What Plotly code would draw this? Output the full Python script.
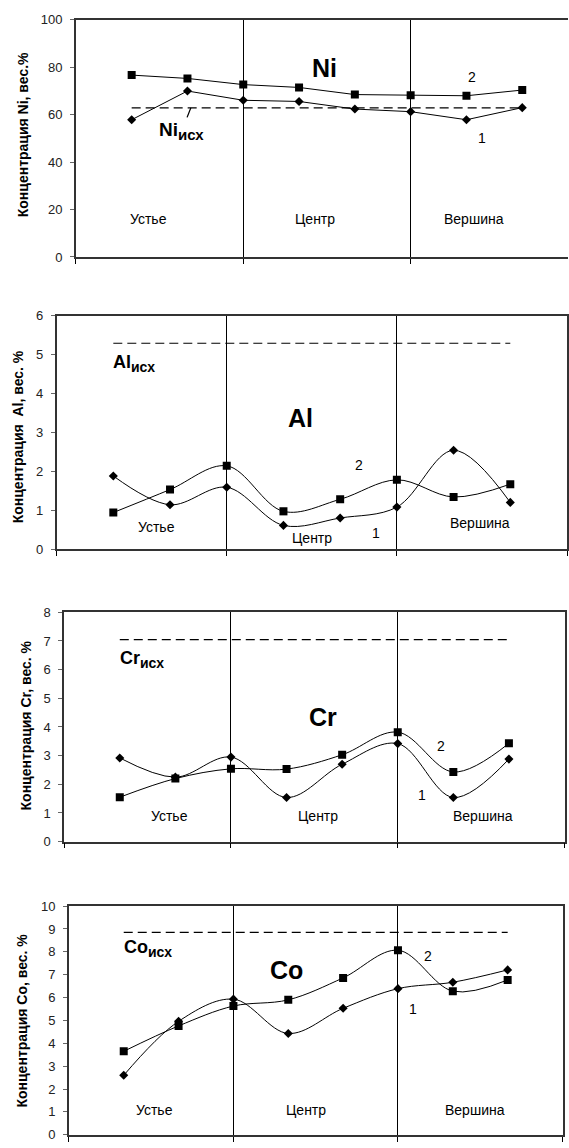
import plotly.graph_objects as go

# ---------------- data ----------------
positions = [0, 1, 2, 3, 4, 5, 6, 7]
section_bounds = [-1, 2, 5, 8]
section_names = ["Устье", "Центр", "Вершина"]

ni_1 = [57.8, 69.9, 66.0, 65.5, 62.3, 61.2, 57.8, 62.9]
ni_2 = [76.6, 75.2, 72.6, 71.4, 68.4, 68.1, 67.9, 70.3]
ni_init = 62.8

al_1 = [1.88, 1.14, 1.59, 0.61, 0.80, 1.08, 2.54, 1.20]
al_2 = [0.94, 1.53, 2.14, 0.97, 1.28, 1.78, 1.34, 1.67]
al_init = 5.29

cr_1 = [2.92, 2.25, 2.95, 1.54, 2.70, 3.42, 1.54, 2.88]
cr_2 = [1.55, 2.20, 2.54, 2.53, 3.03, 3.82, 2.43, 3.43]
cr_init = 7.05

co_1 = [2.60, 4.96, 5.93, 4.43, 5.53, 6.39, 6.67, 7.21]
co_2 = [3.65, 4.76, 5.63, 5.90, 6.86, 8.07, 6.28, 6.77]
co_init = 8.85

W, H = 569, 1148
FONT = "Arial, Liberation Sans, sans-serif"

panels = [
    dict(el="Ni", s1=ni_1, s2=ni_2, init=ni_init, ymax=100, dtick=20, shape="linear",
         left=76, right=569, top=12.7, bottom=253.3, xmax=7.82, mirror_y=False,
         ytitle="Концентрация Ni, вес.%", tx=23, ty=129, init_size=19,
         big=(3.45, 79.4), lab2=(6.10, 75.7), lab1=(6.28, 50.3), init_lab=(0.895, 52.9),
         sec_x=[0.31, 3.29, 6.14], sec_y=[16, 16, 16]),
    dict(el="Al", s1=al_1, s2=al_2, init=al_init, ymax=6, dtick=1, shape="spline",
         left=56.7, right=568, top=312.7, bottom=549.3, xmax=8, mirror_y=True,
         ytitle="Концентрация  Al, вес. %", tx=18, ty=435, init_size=18,
         big=(3.30, 3.36), lab2=(4.34, 2.16), lab1=(4.64, 0.41), init_lab=(0.36, 4.76),
         sec_x=[0.77, 3.51, 6.47], sec_y=[0.56, 0.28, 0.66]),
    dict(el="Cr", s1=cr_1, s2=cr_2, init=cr_init, ymax=8, dtick=1, shape="spline",
         left=64.3, right=565.5, top=613.3, bottom=845.7, xmax=8, mirror_y=True,
         ytitle="Концентрация Cr, вес. %", tx=27, ty=728, init_size=18,
         big=(3.66, 4.35), lab2=(5.77, 3.33), lab1=(5.44, 1.63), init_lab=(0.40, 6.36),
         sec_x=[0.90, 3.57, 6.53], sec_y=[0.88, 0.88, 0.88]),
    dict(el="Co", s1=co_1, s2=co_2, init=co_init, ymax=10, dtick=1, shape="spline",
         left=69, right=563.5, top=911, bottom=1142.7, xmax=8, mirror_y=True,
         ytitle="Концентрация Co, вес. %", tx=22, ty=1027, init_size=18,
         big=(2.97, 7.19), lab2=(5.54, 7.81), lab1=(5.28, 5.5), init_lab=(0.44, 8.13),
         sec_x=[0.57, 3.32, 6.41], sec_y=[1.09, 1.09, 1.09]),
]

fig = go.Figure()
annotations = []
layout = {}

for i, p in enumerate(panels, start=1):
    xa = "x" if i == 1 else f"x{i}"
    ya = "y" if i == 1 else f"y{i}"
    xkey = "xaxis" if i == 1 else f"xaxis{i}"
    ykey = "yaxis" if i == 1 else f"yaxis{i}"

    # initial-concentration dashed line
    fig.add_trace(go.Scatter(x=[positions[0], positions[-1]], y=[p["init"], p["init"]],
                             mode="lines", line=dict(color="black", width=1.2, dash="9px,5px"),
                             xaxis=xa, yaxis=ya, showlegend=False, hoverinfo="skip"))
    # series 1 (diamonds)
    fig.add_trace(go.Scatter(x=positions, y=p["s1"], mode="lines+markers",
                             line=dict(color="black", width=1, shape=p["shape"], smoothing=1),
                             marker=dict(symbol="diamond", size=7, color="black"),
                             xaxis=xa, yaxis=ya, showlegend=False))
    # series 2 (squares)
    fig.add_trace(go.Scatter(x=positions, y=p["s2"], mode="lines+markers",
                             line=dict(color="black", width=1, shape=p["shape"], smoothing=1),
                             marker=dict(symbol="square", size=8, color="black"),
                             xaxis=xa, yaxis=ya, showlegend=False))

    layout[xkey] = dict(
        domain=[p["left"] / W, p["right"] / W], anchor=ya,
        range=[-1, p["xmax"]], tickvals=section_bounds, showticklabels=False,
        ticks="outside", ticklen=5, tickcolor="black",
        showgrid=True, gridcolor="black", gridwidth=1,
        showline=True, linecolor="#333", linewidth=1.5, mirror=True, zeroline=False,
    )
    layout[ykey] = dict(
        domain=[1 - p["bottom"] / H, 1 - p["top"] / H], anchor=xa,
        range=[0, p["ymax"]], dtick=p["dtick"], tick0=0,
        ticks="outside", ticklen=4, tickcolor="#666", ticklabelstandoff=5,
        showgrid=False, zeroline=False,
        showline=True, linecolor="#333", linewidth=1.5, mirror=p["mirror_y"],
        tickfont=dict(family=FONT, size=13, color="#222"),
    )

    # y-axis title (rotated)
    annotations.append(dict(xref="paper", yref="paper", x=p["tx"] / W, y=1 - p["ty"] / H,
                            text=f"<b>{p['ytitle']}</b>", textangle=-90, showarrow=False,
                            xanchor="center", yanchor="middle",
                            font=dict(family=FONT, size=14, color="black")))
    # element symbol
    annotations.append(dict(xref=xa, yref=ya, x=p["big"][0], y=p["big"][1],
                            text=f"<b>{p['el']}</b>", showarrow=False,
                            font=dict(family=FONT, size=25, color="black")))
    # series number labels
    annotations.append(dict(xref=xa, yref=ya, x=p["lab2"][0], y=p["lab2"][1], text="2",
                            showarrow=False, font=dict(family=FONT, size=14, color="black")))
    annotations.append(dict(xref=xa, yref=ya, x=p["lab1"][0], y=p["lab1"][1], text="1",
                            showarrow=False, font=dict(family=FONT, size=14, color="black")))
    # initial-concentration label
    sub_size = round(p["init_size"] * 0.8)
    init_text = (f"<b>{p['el']}<sub><span style='font-size:{sub_size}px'>исх</span></sub></b>")
    if p["el"] == "Ni":
        annotations.append(dict(xref=xa, yref=ya, x=1.06, y=p["init"],
                                ax=-9, ay=23, text=init_text, showarrow=True, arrowhead=0,
                                arrowwidth=1.3, arrowcolor="black", standoff=0,
                                font=dict(family=FONT, size=p["init_size"], color="black")))
    else:
        annotations.append(dict(xref=xa, yref=ya, x=p["init_lab"][0], y=p["init_lab"][1],
                                text=init_text, showarrow=False,
                                font=dict(family=FONT, size=p["init_size"], color="black")))
    # section labels
    for name, sx, sy in zip(section_names, p["sec_x"], p["sec_y"]):
        annotations.append(dict(xref=xa, yref=ya, x=sx, y=sy, text=name, showarrow=False,
                                font=dict(family=FONT, size=14, color="black")))

fig.update_layout(
    width=W, height=H, margin=dict(l=0, r=0, t=0, b=0),
    paper_bgcolor="white", plot_bgcolor="white",
    showlegend=False, annotations=annotations,
    font=dict(family=FONT, color="black"),
    **layout,
)

fig.write_html("out.html")
